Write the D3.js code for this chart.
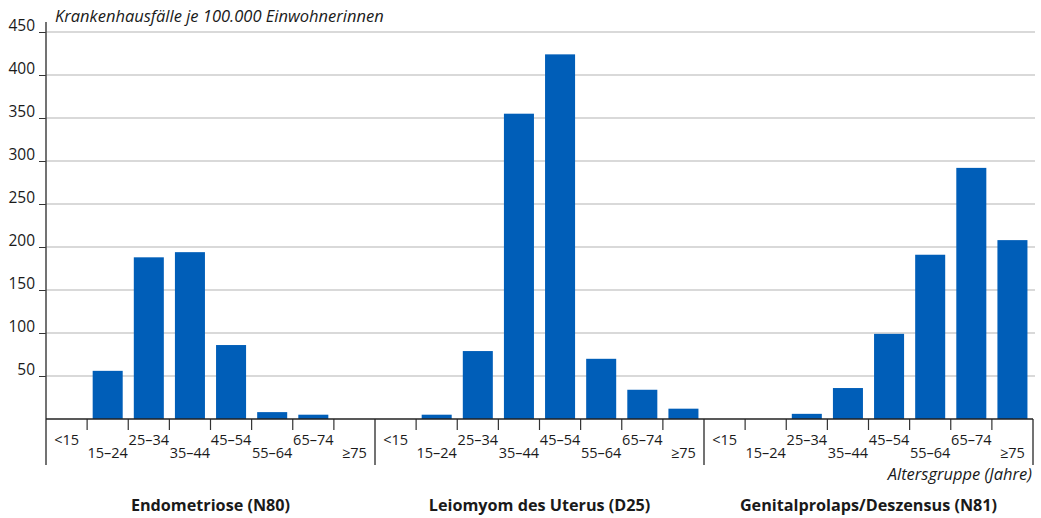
<!DOCTYPE html>
<html>
<head>
<meta charset="utf-8">
<script src="https://cdn.jsdelivr.net/npm/d3@7"></script>
<style>
  html, body { margin: 0; padding: 0; background: #fff; }
  svg { display: block; font-family: "Open Sans", sans-serif; }
</style>
</head>
<body>
<svg id="chart" width="1041" height="518"></svg>
<script>
const groups = ["Endometriose (N80)", "Leiomyom des Uterus (D25)", "Genitalprolaps/Deszensus (N81)"];
const ageGroups = ["<15", "15–24", "25–34", "35–44", "45–54", "55–64", "65–74", "≥75"];
const endometriose = [0, 56, 188, 194, 86, 8, 5, 0];
const leiomyom = [0, 5, 79, 355, 424, 70, 34, 12];
const genitalprolaps = [0, 0, 6, 36, 99, 191, 292, 208];
const yTicks = [50, 100, 150, 200, 250, 300, 350, 400, 450];
const yTitle = "Krankenhausfälle je 100.000 Einwohnerinnen";
const xTitle = "Altersgruppe (Jahre)";

const seriesValues = [endometriose, leiomyom, genitalprolaps];

(function () {
const svg = d3.select("#chart");
const mLeft = 46, mRight = 1033, mTop = 32, mBottom = 419;

const y = d3.scaleLinear().domain([0, 450]).range([mBottom, mTop]);
const xGroup = d3.scaleBand().domain(groups).range([mLeft, mRight]).padding(0);
const xCat = d3.scaleBand().domain(ageGroups).range([0, xGroup.bandwidth()])
  .paddingInner(0.27).paddingOuter(0.135);
const catStep = xGroup.bandwidth() / ageGroups.length;

// gridlines
svg.append("g").selectAll("line").data(yTicks).join("line")
  .attr("x1", mLeft).attr("x2", mRight + 2)
  .attr("y1", d => y(d)).attr("y2", d => y(d))
  .attr("stroke", "#cdcdcd").attr("stroke-width", 1.5);

// y axis
const yAxis = d3.axisLeft(y).tickValues(yTicks).tickSize(7).tickPadding(4).tickFormat(d3.format("d"));
const gy = svg.append("g").attr("transform", `translate(${mLeft},0)`).call(yAxis);
gy.select(".domain").remove();
gy.selectAll(".tick line").attr("stroke", "#333").attr("stroke-width", 1);
gy.selectAll(".tick text").attr("font-size", 15.5).attr("fill", "#1a1a1a")
  .attr("font-family", "'Open Sans', sans-serif").attr("dy", "-0.1em");
svg.append("line").attr("x1", mLeft).attr("x2", mLeft).attr("y1", 22).attr("y2", 465)
  .attr("stroke", "#444").attr("stroke-width", 1.5);

// bars
groups.forEach((g, gi) => {
  const gx = xGroup(g);
  const gg = svg.append("g").attr("transform", `translate(${gx},0)`);
  gg.selectAll("rect").data(ageGroups.map((a, i) => ({a, v: seriesValues[gi][i]})).filter(d => d.v > 0))
    .join("rect")
    .attr("x", d => xCat(d.a))
    .attr("width", xCat.bandwidth())
    .attr("y", d => y(d.v))
    .attr("height", d => mBottom - y(d.v))
    .attr("fill", "#005eb8");

  // category ticks
  const bounds = d3.range(1, ageGroups.length);
  gg.selectAll("line.ct").data(bounds).join("line")
    .attr("x1", d => d * catStep).attr("x2", d => d * catStep)
    .attr("y1", mBottom).attr("y2", 430)
    .attr("stroke", "#333").attr("stroke-width", 1.2);

  // category labels
  gg.selectAll("text.cl").data(ageGroups).join("text")
    .attr("x", d => xCat(d) + xCat.bandwidth() / 2)
    .attr("y", (d, i) => i % 2 === 0 ? 445 : 458)
    .attr("text-anchor", "middle")
    .attr("font-size", 14.5).attr("fill", "#1a1a1a")
    .text(d => d);

  // group separator
  gg.append("line").attr("x1", xGroup.bandwidth()).attr("x2", xGroup.bandwidth())
    .attr("y1", mBottom).attr("y2", 465).attr("stroke", "#444").attr("stroke-width", 1.5);

  // group title
  svg.append("text").attr("x", gx + xGroup.bandwidth() / 2).attr("y", 511)
    .attr("text-anchor", "middle").attr("font-size", 16.2).attr("font-weight", "bold")
    .attr("fill", "#1a1a1a").text(g);
});

// baseline
svg.append("line").attr("x1", mLeft).attr("x2", mRight).attr("y1", mBottom).attr("y2", mBottom)
  .attr("stroke", "#222").attr("stroke-width", 1.5);

// titles
svg.append("text").attr("x", 55).attr("y", 22).attr("font-size", 16.5).attr("font-style", "italic")
  .attr("fill", "#1a1a1a").text(yTitle);
svg.append("text").attr("x", 1032).attr("y", 480).attr("text-anchor", "end").attr("font-size", 16.5)
  .attr("font-style", "italic").attr("fill", "#1a1a1a").text(xTitle);
})();
</script>
</body>
</html>
